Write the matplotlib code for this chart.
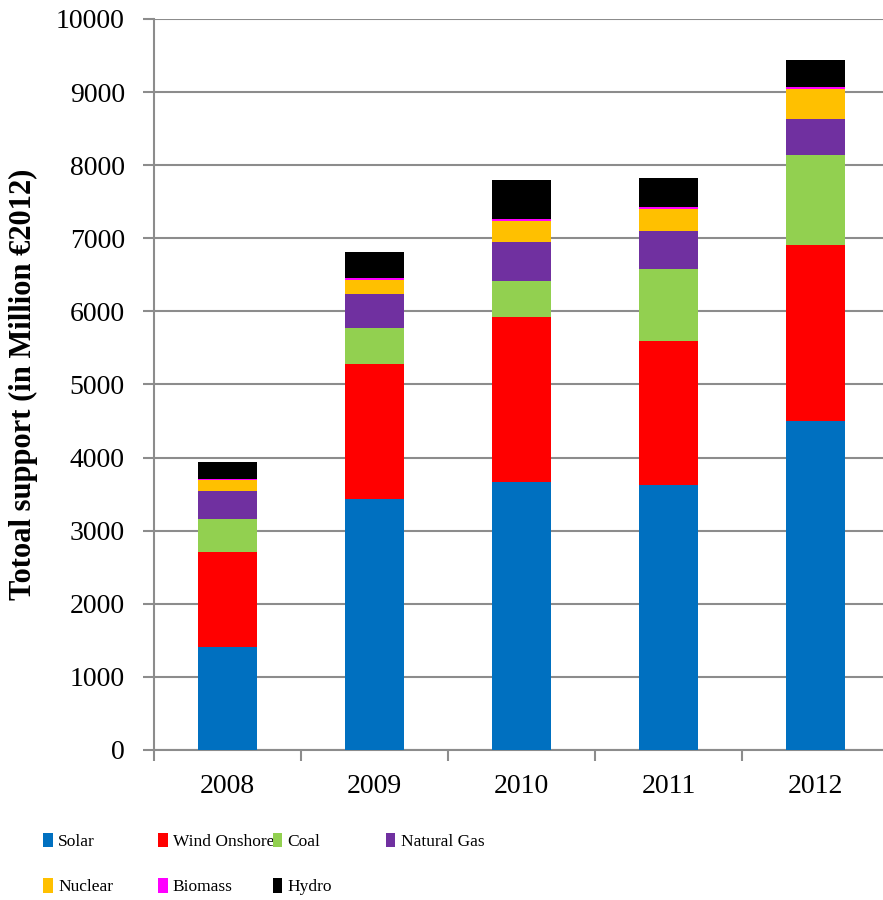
import numpy as np
import matplotlib
matplotlib.use("Agg")
from matplotlib import pyplot as plt

# Total support per technology, million EUR (2012 prices)
years = ["2008", "2009", "2010", "2011", "2012"]
solar = [1413, 3434, 3670, 3631, 4501]
wind_onshore = [1300, 1846, 2257, 1968, 2407]
coal = [451, 489, 484, 985, 1228]
natural_gas = [379, 469, 543, 520, 496]
nuclear = [157, 196, 287, 297, 406]
biomass = [10, 23, 27, 27, 36]
hydro = [230, 360, 530, 392, 365]

series = [
    ("Solar", solar, "#0070C0"),
    ("Wind Onshore", wind_onshore, "#FF0000"),
    ("Coal", coal, "#92D050"),
    ("Natural Gas", natural_gas, "#7030A0"),
    ("Nuclear", nuclear, "#FFC000"),
    ("Biomass", biomass, "#FF00FF"),
    ("Hydro", hydro, "#000000"),
]

plt.rcParams['font.family'] = ['Liberation Serif', 'DejaVu Serif']
plt.rcParams['font.size'] = 20

fig = plt.figure(figsize=(8.83, 9.0), dpi=100)
ax = fig.add_axes([0.1744, 0.1667, 0.8324, 0.8122])

x = np.arange(len(years))
bottom = np.zeros(len(years))
handles = []
for name, vals, color in series:
    vals = np.array(vals, dtype=float)
    b = ax.bar(x, vals, width=0.4, bottom=bottom, color=color, label=name, zorder=3)
    handles.append(b)
    bottom += vals

ax.set_xlim(-0.5, len(years) - 0.5)
ax.set_ylim(0, 10000)
ax.set_yticks(np.arange(0, 10001, 1000))
ax.yaxis.grid(True, color="#8c8c8c", linewidth=1.5, zorder=0)
ax.set_axisbelow(True)

# Category labels centered, tick marks between categories
ax.set_xticks(x)
ax.set_xticklabels(years)
ax.set_xticks(np.arange(-0.5, len(years), 1.0), minor=True)
ax.tick_params(axis="x", which="major", length=0, pad=17, labelsize=20)
ax.tick_params(axis="x", which="minor", length=8, width=1.5, color="#8c8c8c")
ax.tick_params(axis="y", length=8, width=1.5, color="#8c8c8c", pad=13, labelsize=20)

for side in ["top", "right"]:
    ax.spines[side].set_visible(False)
for side in ["left", "bottom"]:
    ax.spines[side].set_color("#8c8c8c")
    ax.spines[side].set_linewidth(1.5)

ax.set_ylabel("Totoal support (in Million €2012)", fontsize=22, fontweight="bold", labelpad=13)

# Legend laid out in evenly spaced columns
columns = [[0, 4], [1, 5], [2, 6], [3]]
col_x = [0.049, 0.179, 0.309, 0.437]
for idx, cx in zip(columns, col_x):
    fig.legend([handles[i] for i in idx], [series[i][0] for i in idx],
               loc="upper left", bbox_to_anchor=(cx, 0.075), frameon=False,
               fontsize=12.5, handlelength=0.55, handleheight=0.95,
               handletextpad=0.3, labelspacing=1.6, borderpad=0, borderaxespad=0)

fig.savefig("out.png", dpi=100)
